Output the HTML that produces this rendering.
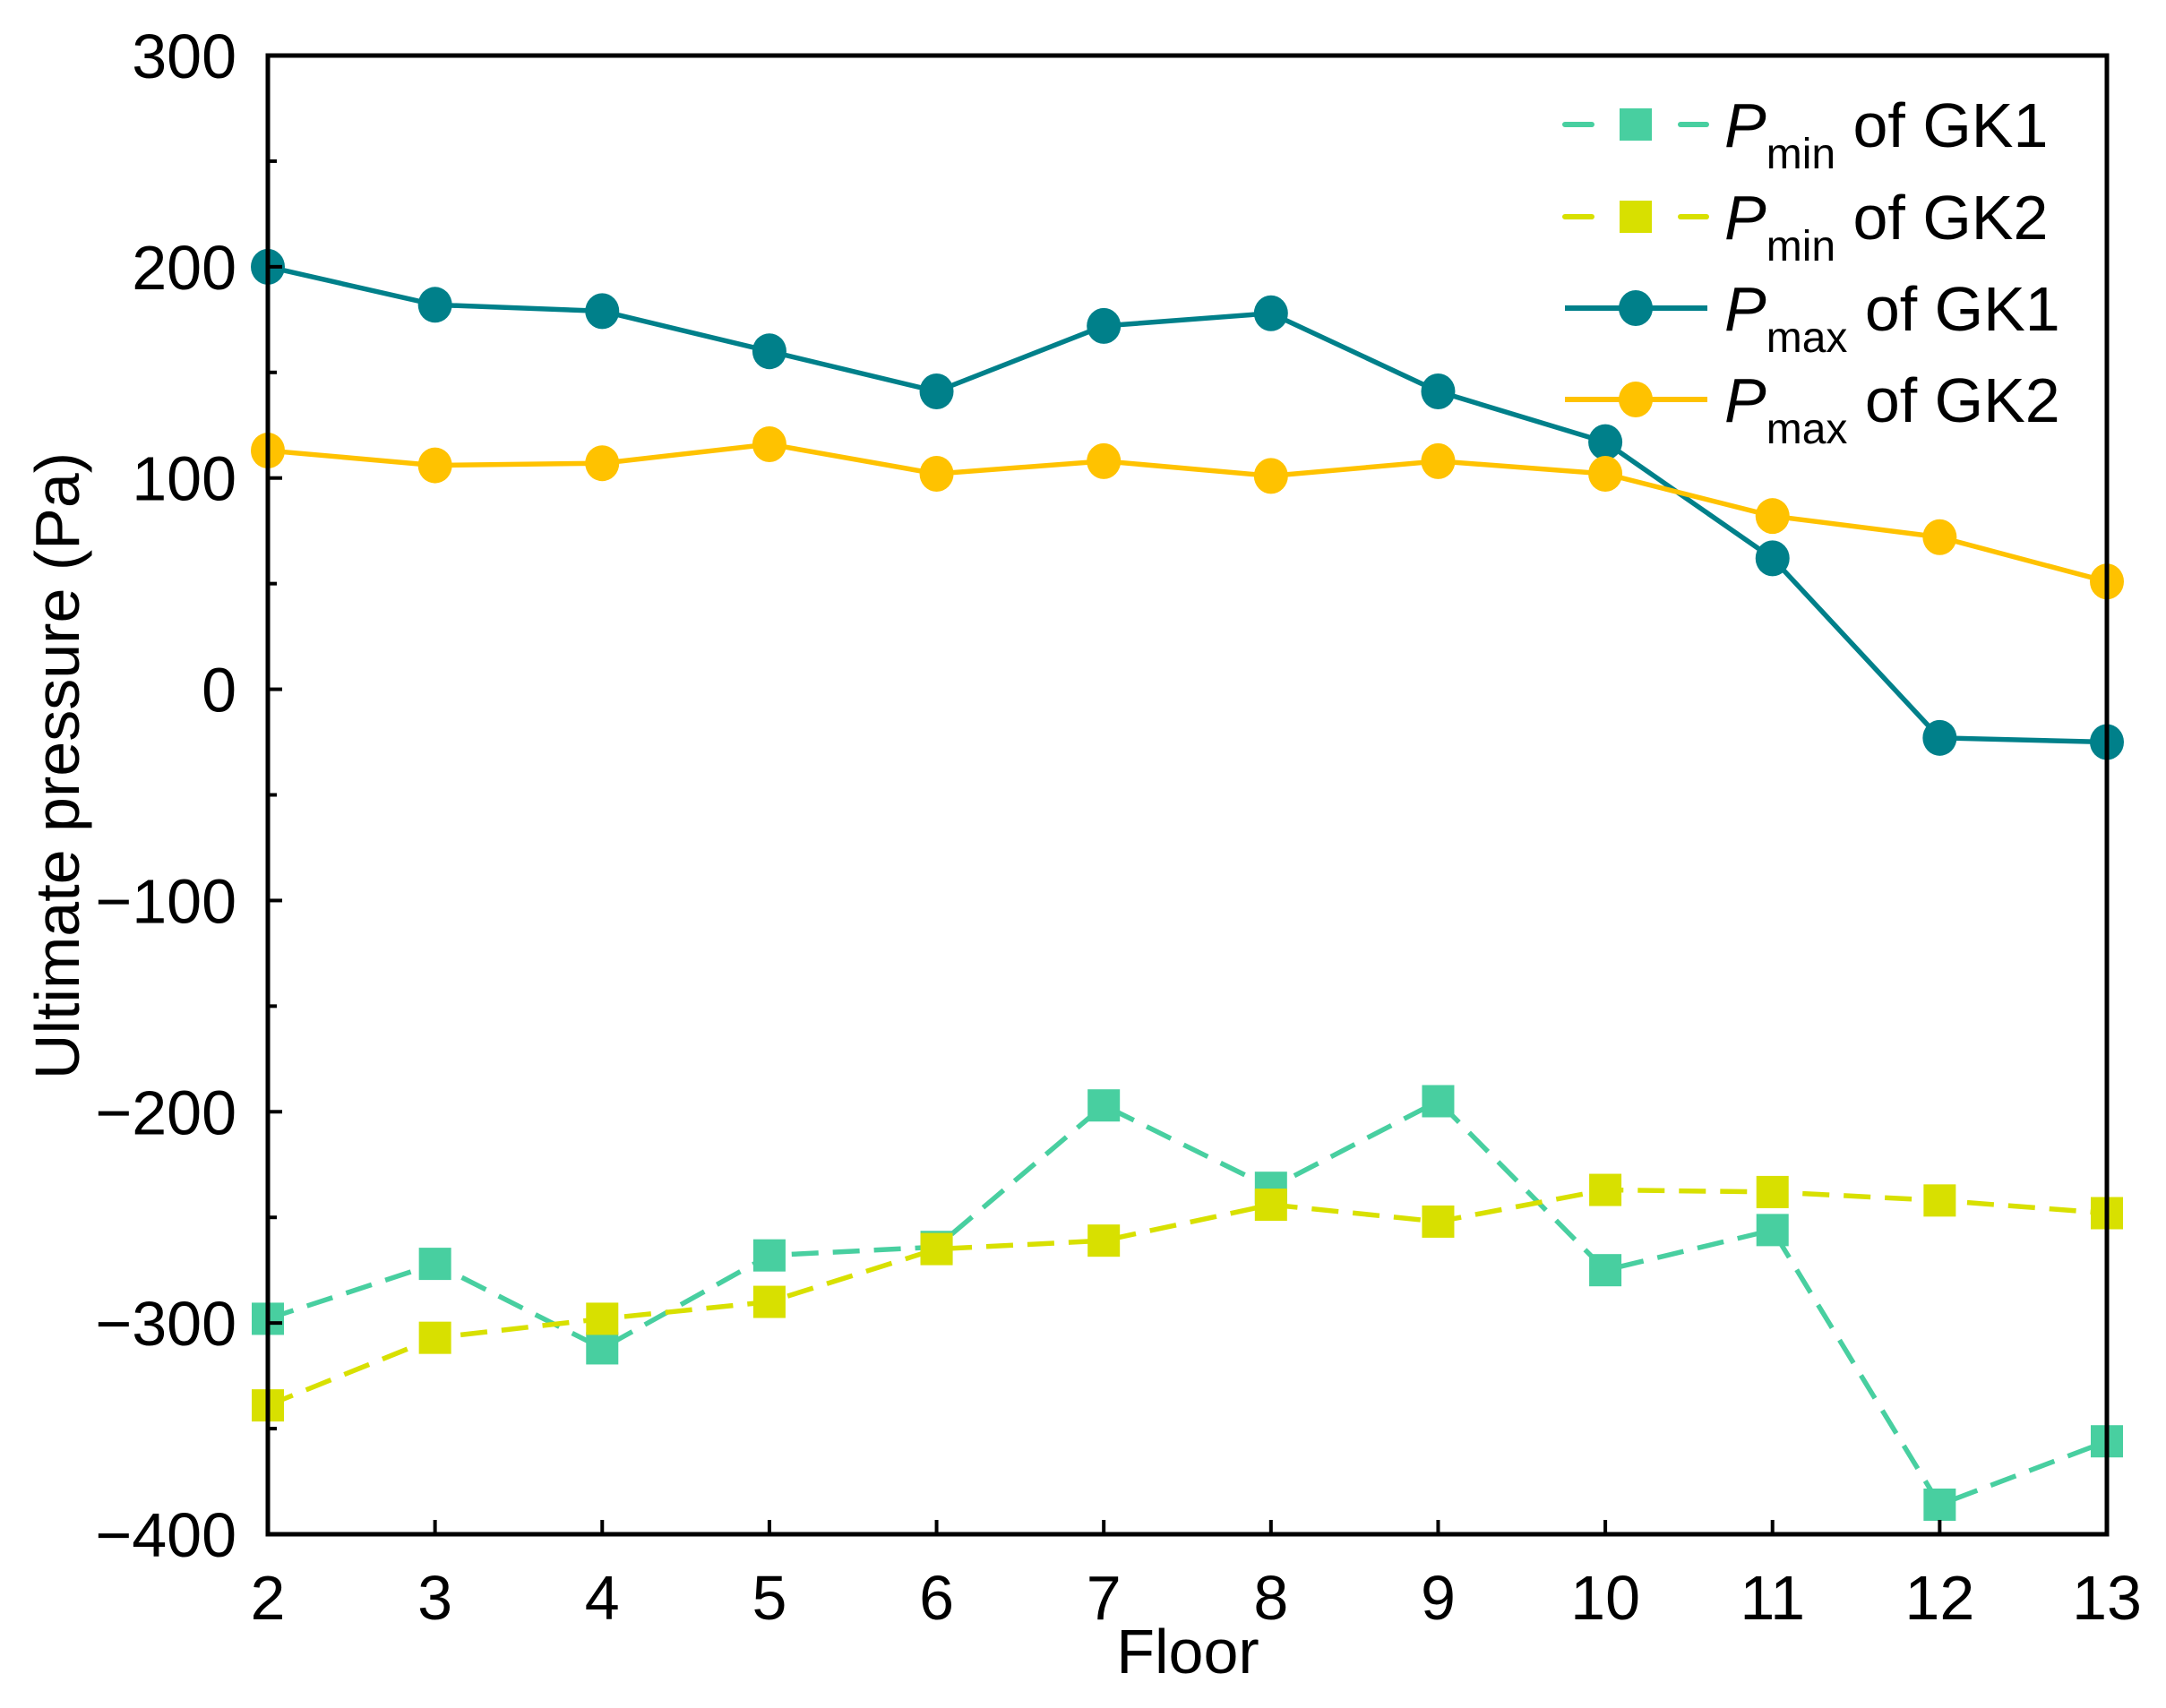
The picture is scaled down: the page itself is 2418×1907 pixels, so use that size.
<!DOCTYPE html>
<html><head><meta charset="utf-8"><style>
html,body{margin:0;padding:0;background:#fff;}
svg{display:block;font-family:"Liberation Sans",sans-serif;}
</style></head><body>
<svg id="chart" width="2418" height="1907" viewBox="0 0 2418 1907" xmlns="http://www.w3.org/2000/svg">
<g id="series"></g>
<g id="axes"></g>
<g id="legend"></g>
</svg>
<script>
const floors = [2,3,4,5,6,7,8,9,10,11,12,13];
const pminGK1 = [-298,-272,-312,-268,-264,-197,-236,-195,-275,-256,-386,-356];
const pminGK2 = [-339,-307,-298,-290,-265,-261,-244,-252,-237,-238,-242,-248];
const pmaxGK1 = [200,182,179,160,141,172,178,141,117,62,-23,-25];
const pmaxGK2 = [113,106,107,116,102,108,101,108,102,82,72,51];
const yTicks = [-400,-300,-200,-100,0,100,200,300];
const yTickLabels = ["\u2212400","\u2212300","\u2212200","\u2212100","0","100","200","300"];
const seriesNames = ["min|of GK1","min|of GK2","max|of GK1","max|of GK2"];

const NS="http://www.w3.org/2000/svg";
const L=299,R=2352,T=62,B=1713;
const xs=v=>L+(v-2)*(R-L)/11;
const ys=v=>B-(v+400)*(B-T)/700;
function mk(tag,attrs,parent){const e=document.createElementNS(NS,tag);for(const k in attrs)e.setAttribute(k,attrs[k]);parent.appendChild(e);return e;}
const axes=document.getElementById('axes'),series=document.getElementById('series'),legend=document.getElementById('legend');

const frame=mk('rect',{x:L,y:T,width:R-L,height:B-T,fill:'none',stroke:'#000','stroke-width':5},axes);


yTicks.forEach((v,i)=>{
  const t=mk('line',{x1:L,x2:L+16,y1:ys(v),y2:ys(v),stroke:'#000','stroke-width':4},axes);
  
  
  if(i<yTicks.length-1){
    const m=mk('line',{x1:L,x2:L+10,y1:ys(v+50),y2:ys(v+50),stroke:'#000','stroke-width':4},axes);
    
    
  }
  const tx=mk('text',{x:264,y:ys(v)+25,'text-anchor':'end','font-size':70},axes);
  tx.textContent=yTickLabels[i];
  
  
});
floors.forEach(f=>{
  const t=mk('line',{x1:xs(f),x2:xs(f),y1:B,y2:B-16,stroke:'#000','stroke-width':4},axes);
  
  
  const tx=mk('text',{x:xs(f),y:1808,'text-anchor':'middle','font-size':70},axes);
  tx.textContent=f;
  
  
});
const xt=mk('text',{x:1326,y:1868,'text-anchor':'middle','font-size':70},axes);
xt.textContent='Floor';


const yt=mk('text',{x:0,y:0,'text-anchor':'middle','font-size':70,transform:'translate(88,855) rotate(-90)'},axes);
yt.textContent='Ultimate pressure (Pa)';



const cfg=[
 {d:pminGK1,c:'#48CFA0',dash:'30 16',m:'sq',n:'pmin-gk1'},
 {d:pminGK2,c:'#D8E000',dash:'30 16',m:'sq',n:'pmin-gk2'},
 {d:pmaxGK1,c:'#00808A',dash:'',m:'ci',n:'pmax-gk1'},
 {d:pmaxGK2,c:'#FFC200',dash:'',m:'ci',n:'pmax-gk2'}];
function marker(type,x,y,c,parent){
  if(type==='sq') return mk('rect',{x:x-18,y:y-18,width:36,height:36,fill:c},parent);
  return mk('ellipse',{cx:x,cy:y,rx:19,ry:20,fill:c},parent);
}
cfg.forEach(s=>{
  const g=mk('g',{},series);
  
  
  const pts=s.d.map((v,i)=>xs(floors[i])+','+ys(v)).join(' ');
  const pl=mk('polyline',{points:pts,fill:'none',stroke:s.c,'stroke-width':5.5,'stroke-dasharray':s.dash},g);
  
  
  s.d.forEach((v,i)=>{
    const m=marker(s.m,xs(floors[i]),ys(v),s.c,g);
    
    
  });
});
const ly=[139,242,344,446];
cfg.forEach((s,i)=>{
  const g=mk('g',{},legend);
  
  
  const y=ly[i];
  if(s.dash){
    mk('line',{x1:1747,x2:1777,y1:y,y2:y,stroke:s.c,'stroke-width':6,'stroke-linecap':'round'},g);
    mk('line',{x1:1876,x2:1905,y1:y,y2:y,stroke:s.c,'stroke-width':6,'stroke-linecap':'round'},g);
  } else {
    mk('line',{x1:1747,x2:1906,y1:y,y2:y,stroke:s.c,'stroke-width':6},g);
  }
  marker(s.m,1826,y,s.c,g);
  const parts=seriesNames[i].split('|');
  const t=mk('text',{x:1925,y:y+25,'font-size':70},g);
  const p=mk('tspan',{'font-style':'italic'},t);p.textContent='P';
  const sub=mk('tspan',{'font-size':48,dy:24},t);sub.textContent=parts[0];
  const rest=mk('tspan',{dy:-24},t);rest.textContent=' '+parts[1];
});
</script>
</body></html>
